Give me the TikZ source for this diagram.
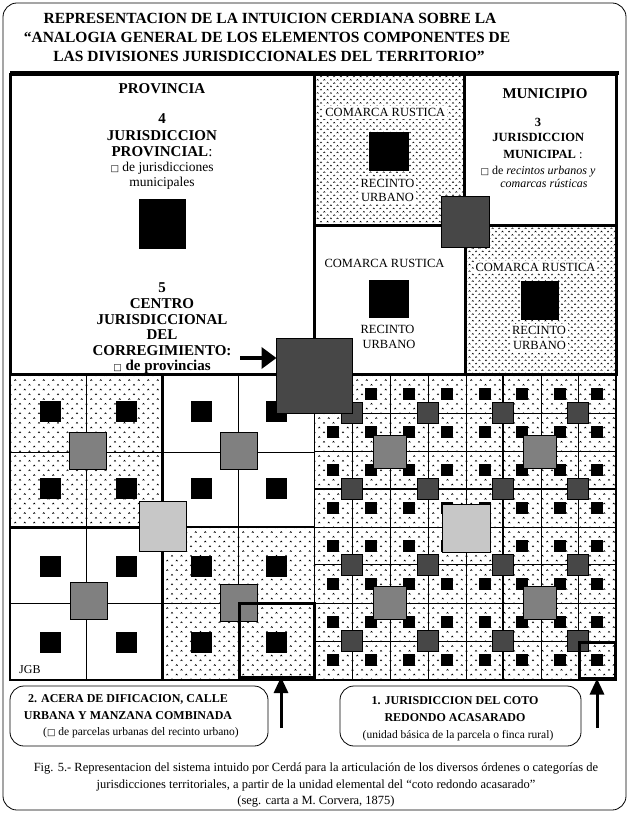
\documentclass[tikz,border=0pt]{standalone}
\usepackage{fontspec}
\setmainfont{Liberation Serif}
\newfontfamily\boxfont{DejaVu Sans}
\usetikzlibrary{patterns,arrows.meta}
\pgfdeclarepatternformonly{carets}{\pgfqpoint{-1pt}{-1pt}}{\pgfqpoint{8pt}{8pt}}{\pgfqpoint{6.6pt}{6.6pt}}{%
  \pgfsetlinewidth{0.5pt}%
  \pgfpathmoveto{\pgfqpoint{0pt}{0pt}}\pgfpathlineto{\pgfqpoint{0.9pt}{1.1pt}}\pgfpathlineto{\pgfqpoint{1.8pt}{0pt}}%
  \pgfpathmoveto{\pgfqpoint{3.3pt}{3.3pt}}\pgfpathlineto{\pgfqpoint{4.2pt}{4.4pt}}\pgfpathlineto{\pgfqpoint{5.1pt}{3.3pt}}%
  \pgfusepath{stroke}}
\pgfdeclarepatternformonly{caretsB}{\pgfqpoint{-1pt}{-1pt}}{\pgfqpoint{11pt}{11pt}}{\pgfqpoint{9.5pt}{9.5pt}}{%
  \pgfsetlinewidth{0.55pt}%
  \pgfpathmoveto{\pgfqpoint{0pt}{0pt}}\pgfpathlineto{\pgfqpoint{1pt}{1.2pt}}\pgfpathlineto{\pgfqpoint{2pt}{0pt}}%
  \pgfpathmoveto{\pgfqpoint{4.75pt}{4.75pt}}\pgfpathlineto{\pgfqpoint{5.75pt}{5.95pt}}\pgfpathlineto{\pgfqpoint{6.75pt}{4.75pt}}%
  \pgfusepath{stroke}}
\newcommand{\bx}{{\boxfont\fontsize{9}{9}\selectfont □}}
\newcommand{\myfs}[1]{\fontsize{#1}{#1}\selectfont}
\begin{document}
\begin{tikzpicture}[x=1pt,y=-1pt,
  thin grid/.style={line width=0.7pt},
  med line/.style={line width=1.6pt},
  thick line/.style={line width=3pt},
  sq/.style={inner sep=0pt,outer sep=0pt,minimum width=#1,minimum height=#1},
  blk/.style={sq=#1,fill=black},
  dark chk/.style={sq=#1,fill=black!72,draw=black,line width=0.5pt},
  mid chk/.style={sq=#1,fill=black!50,draw=black,line width=0.6pt},
  light chk/.style={sq=#1,fill=black!22,draw=black,line width=0.6pt},
  txt/.style={anchor=base,inner sep=0pt},
  wtxt/.style={anchor=base,fill=white,inner sep=2pt},
  ttl/.style={txt,font=\myfs{15.5}\bfseries},
  bighead/.style={txt,font=\myfs{15}\bfseries},
  regline/.style={txt,font=\myfs{13.5}},
  munb/.style={txt,font=\myfs{12.5}\bfseries},
  munr/.style={txt,font=\myfs{12}},
  comarca/.style={wtxt,font=\myfs{12.5}},
  comarcaw/.style={txt,font=\myfs{12.5}},
  labb/.style={txt,font=\myfs{12}\bfseries},
  labr/.style={txt,font=\myfs{11.5}},
  capt/.style={txt,font=\myfs{12.5}},
  bigarrow/.style={line width=4pt,-{Triangle[width=21pt,length=15pt]}},
  uparrow/.style={line width=3pt,-{Triangle[width=14pt,length=16pt]}},
  labbox/.style={draw,line width=0.8pt,rounded corners=14pt,inner sep=0pt,minimum height=60pt},
  framebox/.style={draw,line width=3pt,inner sep=0pt,outer sep=0pt}
]
\useasboundingbox (0,0) rectangle (629,813);
% outer frame and title
\draw[line width=0.8pt,rounded corners=14pt] (3,3) rectangle (626,810);
\node[ttl] (t1) at (270,23.5) {REPRESENTACION DE LA INTUICION CERDIANA SOBRE LA};
\node[ttl] (t2) at (267,42.5) {“ANALOGIA GENERAL DE LOS ELEMENTOS COMPONENTES DE};
\node[ttl] (t3) at (269,61.5) {LAS DIVISIONES JURISDICCIONALES DEL TERRITORIO”};
\draw[line width=3.5pt] (10,73) -- (619,73);

% ---------- dotted areas
\fill[pattern=carets] (314,75) rectangle (464,225);
\fill[pattern=carets] (465,225) rectangle (616,374);
\fill[pattern=caretsB] (314,374) rectangle (616,680);
\fill[pattern=caretsB] (10,374) rectangle (162,527);
\fill[pattern=caretsB] (162,527) rectangle (314,680);

% ---------- bottom right grid (8x8)
\foreach \x in {352,390,428,466,541,578} \draw[thin grid] (\x,374) -- (\x,680);
\draw[med line] (503,374) -- (503,680);
\foreach \y in {413,451,527,564,603,641} \draw[thin grid] (314,\y) -- (616,\y);
\draw[med line] (314,489) -- (616,489);
\foreach \cx [count=\i] in {333,371,409,447,484.5,522,559.5,597}
  \foreach \cy [count=\j] in {393.5,432,470,508,545.5,583.5,622,660}
    \node[blk=12pt] (g\i-\j) at (\cx,\cy) {};
\foreach \cx [count=\i] in {352,428,503,578}
  \foreach \cy [count=\j] in {413,489,565,641}
    \node[dark chk=21pt] (d\i-\j) at (\cx,\cy) {};
\foreach \cx [count=\i] in {390,540}
  \foreach \cy [count=\j] in {452,603}
    \node[mid chk=33pt] (m\i-\j) at (\cx,\cy) {};
\node[light chk=48pt] (ctrR) at (466,528) {};

% ---------- bottom left (2x2 blocks of 2x2 cells)
\foreach \x in {86,238} \draw[thin grid] (\x,374) -- (\x,680);
\draw[thin grid] (314,374) -- (314,680);
\foreach \y in {452,603} \draw[thin grid] (10,\y) -- (314,\y);
\draw[thick line] (162,374) -- (162,680);
\draw[thick line] (10,527) -- (162,527);
\draw[med line] (162,527) -- (314,527);
\foreach \cx [count=\i] in {50,126,201,276}
  \foreach \cy [count=\j] in {411,488,566,642}
    \node[blk=21pt] (b\i-\j) at (\cx,\cy) {};
\node[mid chk=37pt] (mb1) at (87.5,451) {};
\node[mid chk=37pt] (mb2) at (239,451) {};
\node[mid chk=37pt] (mb3) at (88.5,601) {};
\node[mid chk=37pt] (mb4) at (239,603) {};
\node[light chk=47pt,minimum height=50pt] (ctrL) at (162.3,526.3) {};
\node[txt,font=\myfs{12},anchor=base west] (jgb) at (19,673) {JGB};
\draw[line width=1.5pt] (10,374) rectangle (616,680);
\node[framebox,minimum width=75pt,minimum height=74pt] (acera) at (277,640) {};
\node[framebox,minimum width=36pt,minimum height=36pt] (coto) at (597.5,660.5) {};

% ---------- upper boxes
\draw[thick line] (10,75) rectangle (314,374);
\draw[thick line] (314,75) rectangle (464,225);
\draw[thick line] (464,75) rectangle (616,225);
\draw[thick line] (314,225) rectangle (465,374);
\draw[thick line] (465,225) rectangle (616,374);

% Provincia
\node[bighead] (pv0) at (162,94) {PROVINCIA};
\node[bighead] (pv1) at (162,124) {4};
\node[bighead] (pv2) at (162,140.5) {JURISDICCION};
\node[bighead] (pv3) at (162,156.5) {PROVINCIAL\textmd{:}};
\node[regline] (pv4) at (162,171.5) {\bx\ de jurisdicciones};
\node[regline] (pv5) at (162,186) {municipales};
\node[blk=47pt,minimum height=50pt] (pvsq) at (162.3,223.8) {};
\node[bighead] (pc1) at (162,292) {5};
\node[bighead] (pc2) at (162,308) {CENTRO};
\node[bighead] (pc3) at (162,324.5) {JURISDICCIONAL};
\node[bighead] (pc4) at (162,339.5) {DEL};
\node[bighead] (pc5) at (162,355) {CORREGIMIENTO:};
\node[bighead] (pc6) at (162,370) {\bx\ de provincias};

% Comarca top (dotted)
\node[comarca] (ca1) at (385.3,116.7) {COMARCA RUSTICA};
\node[blk=40pt,minimum height=39pt] (casq) at (389,152) {};
\node[comarca] (ca2) at (387.5,187.7) {RECINTO};
\node[comarca] (ca3) at (387.5,201) {URBANO};

% Municipio
\node[bighead] (mu0) at (545,99) {MUNICIPIO};
\node[munb] (mu1) at (538,126.7) {3};
\node[munb] (mu2) at (538.3,141.7) {JURISDICCION};
\node[munb] (mu3) at (543,158.3) {MUNICIPAL \textmd{:}};
\node[munr] (mu4) at (538,174.5) {\bx\ de \textit{recintos urbanos y}};
\node[munr] (mu5) at (544,188) {\textit{comarcas rústicas}};

% Comarca lower white
\node[comarcaw] (cb1) at (384.5,267.3) {COMARCA RUSTICA};
\node[blk=40pt,minimum height=38pt] (cbsq) at (389.2,298.8) {};
\node[comarcaw] (cb2) at (387.5,333.3) {RECINTO};
\node[comarcaw] (cb3) at (389,348.3) {URBANO};

% Comarca lower dotted
\node[comarca] (cc1) at (535.5,271) {COMARCA RUSTICA};
\node[blk=38pt,minimum height=39pt] (ccsq) at (540,300.5) {};
\node[comarca] (cc2) at (539,334.3) {RECINTO};
\node[comarca] (cc3) at (539.5,349) {URBANO};

% overlay checker squares
\node[dark chk=48pt,minimum height=51pt] (chkU) at (465,222) {};
\node[dark chk=76pt,minimum height=75pt] (chkB) at (314.5,375.5) {};
\coordinate (aT) at (240,358);
\draw[bigarrow] (aT) -- (aT -| chkB.west);

% ---------- bottom labels
\node[labbox,minimum width=258pt] (lab2) at (139,716) {};
\node[labb] (l2a) at (128,702) {2. ACERA DE DIFICACION, CALLE};
\node[labb] (l2b) at (128,719) {URBANA Y MANZANA COMBINADA};
\node[labr] (l2c) at (141,735) {(\bx\ de parcelas urbanas del recinto urbano)};
\node[labbox,minimum width=241pt] (lab1) at (460.5,716) {};
\node[labb] (l1a) at (455,704) {1. JURISDICCION DEL COTO};
\node[labb] (l1b) at (455,721) {REDONDO ACASARADO};
\node[labr] (l1c) at (458,738) {(unidad básica de la parcela o finca rural)};
\coordinate (u2) at (281,728);
\coordinate (u1) at (597,728);
\draw[uparrow] (u2) -- (u2 |- acera.south);
\draw[uparrow] (u1) -- (u1 |- coto.south);

% ---------- caption
\node[capt] (c1) at (316,771) {Fig. 5.- Representacion del sistema intuido por Cerdá para la articulación de los diversos órdenes o categorías de};
\node[capt] (c2) at (316,788) {jurisdicciones territoriales, a partir de la unidad elemental del “coto redondo acasarado”};
\node[capt] (c3) at (316,804) {(seg. carta a M. Corvera, 1875)};
\end{tikzpicture}
\end{document}
